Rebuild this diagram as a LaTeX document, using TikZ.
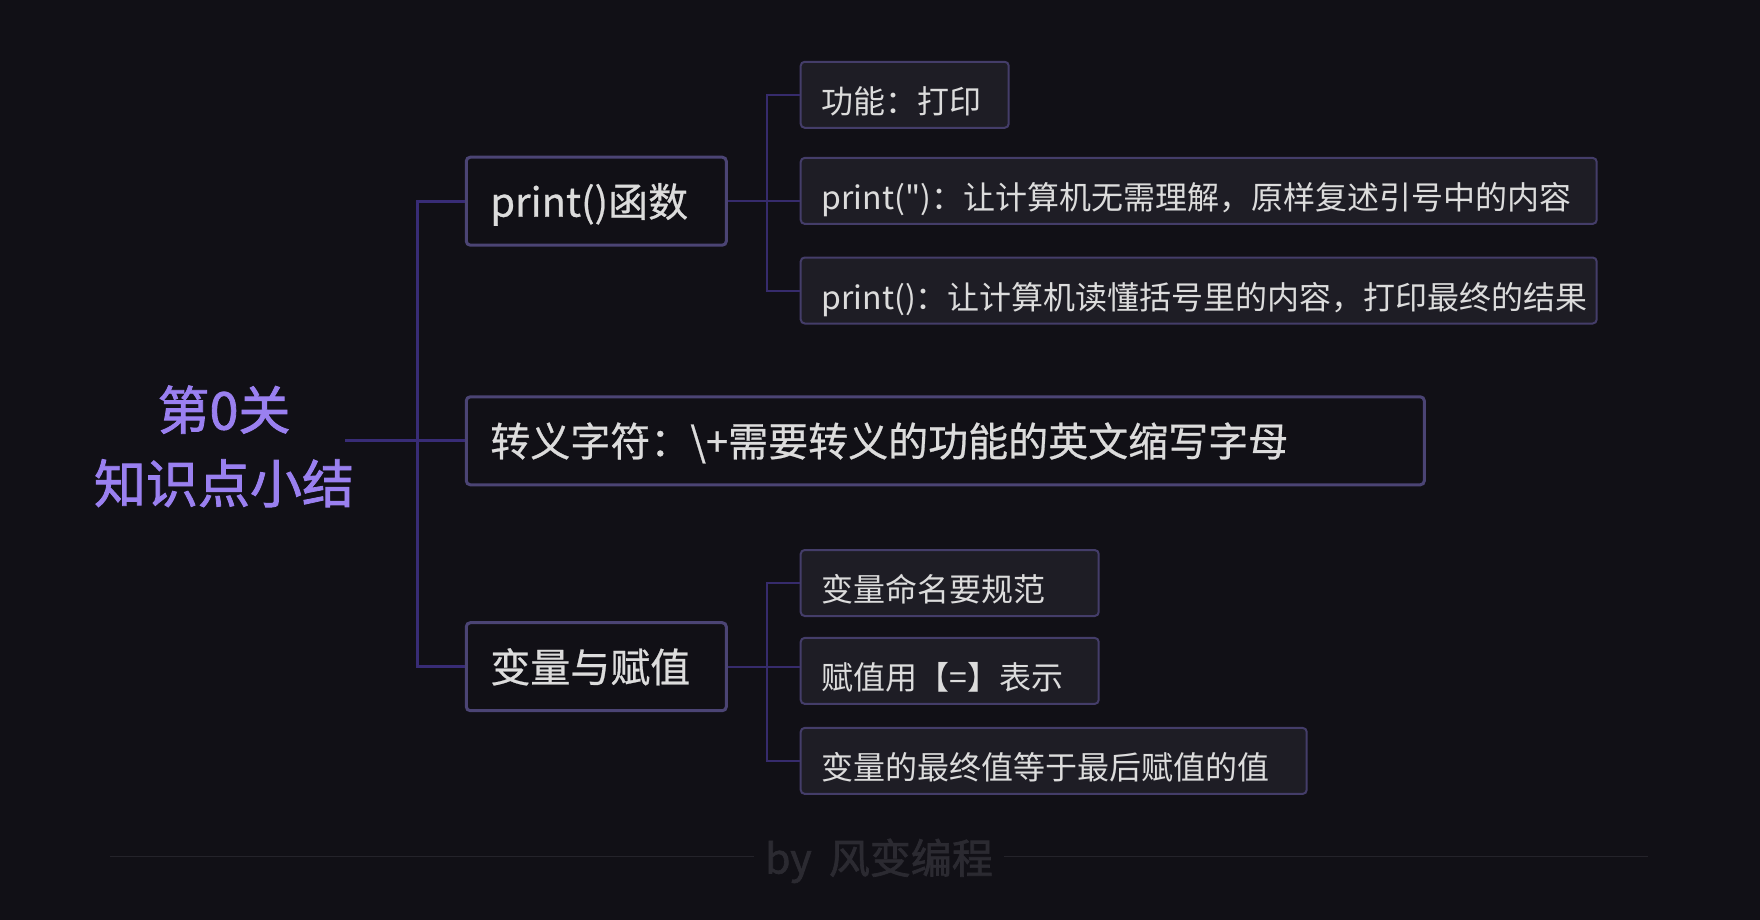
\documentclass[tikz,border=0pt]{standalone}
\usepackage{fontspec}
\usepackage{tikz}
\newfontfamily\cjk{Noto Sans CJK SC}
\newfontfamily\cjkmid{Noto Sans CJK SC}[FakeBold=1.6]
\newfontfamily\cjksemi{Noto Sans CJK SC}[FakeBold=0.6]
\definecolor{bgdark}{HTML}{111016}
\definecolor{topicline}{HTML}{4B4474}
\definecolor{leafline}{HTML}{443D69}
\definecolor{leaffill}{HTML}{1E1D25}
\definecolor{trunkline}{HTML}{382C76}
\definecolor{branchline}{HTML}{362B6C}
\definecolor{labelgray}{HTML}{DCDCDC}
\definecolor{rootpurple}{HTML}{9A80F0}
\definecolor{footgray}{HTML}{2B2A31}
\definecolor{footrule}{HTML}{24232A}
\tikzset{
  root text/.style={
    text=rootpurple, font=\cjkmid\fontsize{52}{73.5}\selectfont,
    align=center, inner sep=0pt
  },
  topic box/.style={
    draw=topicline, line width=3pt, fill=bgdark, rounded corners=4pt,
    text=labelgray, font=\cjksemi\fontsize{40}{48}\selectfont,
    inner xsep=24pt, inner ysep=0pt, text height=31pt, text depth=0pt,
    minimum height=88pt, anchor=west, align=left, text width=#1
  },
  leaf box/.style={
    draw=leafline, line width=2pt, fill=leaffill, rounded corners=4pt,
    text=labelgray, font=\cjk\fontsize{32}{38}\selectfont,
    inner xsep=21pt, inner ysep=0pt, text height=37pt, text depth=0pt,
    minimum height=66pt, anchor=west, align=left, text width=#1
  },
  trunk line/.style={draw=trunkline, line width=3pt},
  branch line/.style={draw=branchline, line width=2pt},
  credit text/.style={
    text=footgray, font=\cjkmid\fontsize{41}{48}\selectfont,
    inner xsep=11pt, inner ysep=0pt, text height=31pt, text depth=0pt
  }
}

\begin{document}
\begin{tikzpicture}[x=1pt, y=-1pt]
    % Canvas
    \fill[bgdark] (0,0) rectangle (1760,920);
    \useasboundingbox (0,0) rectangle (1760,920);

    % Root
    \node[root text] (root) at (224,446.4) {第0关\\知识点小结};

    % Topics
    \node[topic box=212pt] (print) at (464.8,201.2) {print()函数};
    \node[topic box=910pt] (escape) at (464.8,440.8) {转义字符：\textbackslash+需要转义的功能的英文缩写字母};
    \node[topic box=212pt] (assign) at (464.8,666.7) {变量与赋值};

    % Leaves
    \node[leaf box=166pt] (printA) at (799.7,94.8) {功能：打印};
    \node[leaf box=754pt] (printB) at (799.7,190.9) {print(")：让计算机无需理解，原样复述引号中的内容};
    \node[leaf box=754pt] (printC) at (799.7,290.5) {print()：让计算机读懂括号里的内容，打印最终的结果};
    \node[leaf box=256pt] (assignA) at (799.7,583) {变量命名要规范};
    \node[leaf box=256pt] (assignB) at (799.7,670.9) {赋值用【=】表示};
    \node[leaf box=464pt] (assignC) at (799.7,760.9) {变量的最终值等于最后赋值的值};

    % Trunk
    \coordinate (spine) at (417.7,0);
    \draw[trunk line] ([xshift=-9pt]root.east |- escape.west) -- (escape.west);
    \draw[trunk line] (print.west) -| (spine |- escape.west) |- (assign.west);

    % Branches
    \foreach \top in {print,assign} {
        \draw[branch line] (\top.east) -- (\top.east -| \top B.west);
        \draw[branch line] (\top A.west) -| ([xshift=38.8pt]\top.east) |- (\top C.west);
    }

    % Footer
    \node[credit text] (credit) at (879,858) {by\hspace{8pt} 风变编程};
    \coordinate (footL) at (110,856.7);
    \coordinate (footR) at (1648,856.7);
    \draw[footrule, line width=1.5pt] (footL) -- (footL -| credit.west);
    \draw[footrule, line width=1.5pt] (credit.east |- footR) -- (footR);
\end{tikzpicture}
\end{document}
